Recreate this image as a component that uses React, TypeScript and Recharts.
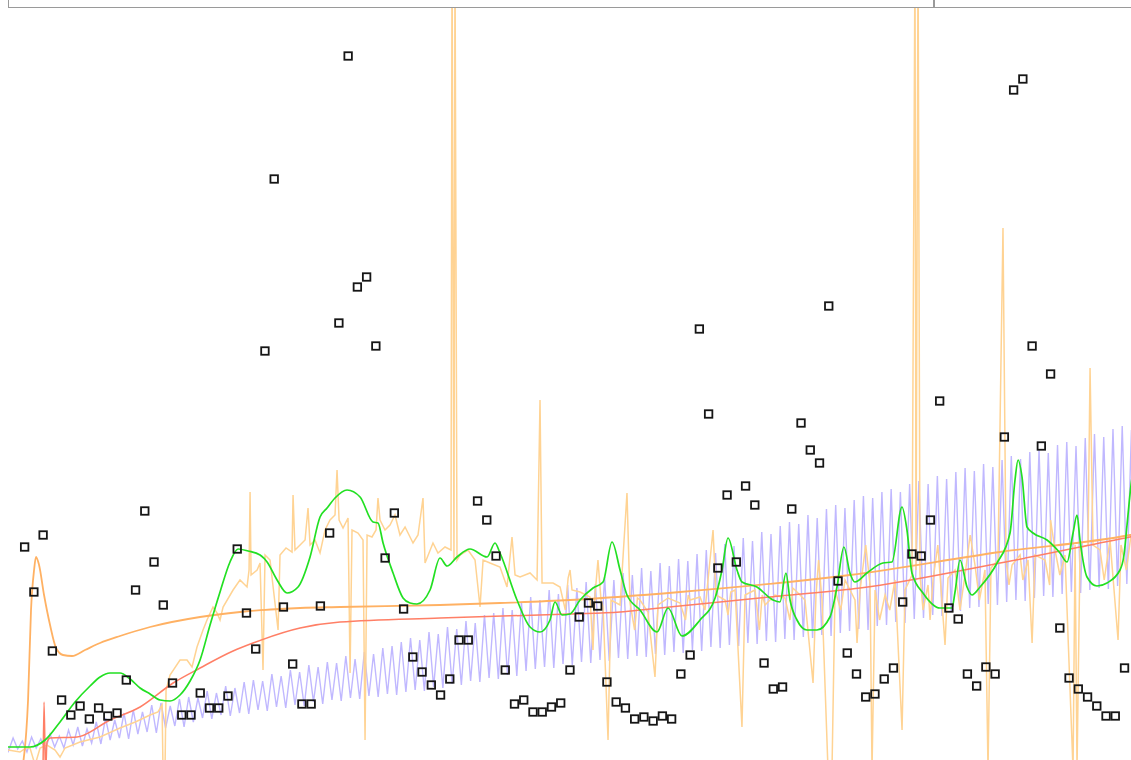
import React from 'react';
import { ComposedChart, Line, Scatter, XAxis, YAxis } from 'recharts';

// Square markers: one reading per step, step index = position in the list
const markerValues = [
  213, 168, 225, 109, 60, 45, 54, 41, 52, 44,
  47, 80, 170, 249, 198, 155, 77, 45, 45, 67,
  52, 52, 64, 211, 147, 111, 409, 581, 153, 96,
  56, 56, 154, 227, 437, 704, 473, 483, 414, 202,
  247, 151, 103, 88, 75, 65, 81, 120, 120, 259,
  240, 204, 90, 56, 60, 48, 48, 53, 57, 90,
  143, 157, 154, 78, 58, 52, 41, 43, 39, 44,
  41, 86, 105, 431, 346, 192, 265, 198, 274, 255,
  97, 71, 73, 251, 337, 310, 297, 454, 179, 107,
  86, 63, 66, 81, 92, 158, 206, 204, 240, 359,
  152, 141, 86, 74, 93, 86, 323, 670, 681, 414,
  314, 386, 132, 82, 71, 63, 54, 44, 44, 92,
];

// Oscillating series: peak and trough per step, starting at step -2
const OSC_START = -2;
const oscHigh = [
  20, 22, 19, 23, 21, 26, 24, 30, 33, 31, 38, 42, 40, 47, 50, 48, 55, 57, 54, 61,
  63, 62, 69, 67, 74, 72, 78, 80, 79, 86, 84, 90, 88, 95, 93, 98, 97, 104, 101, 108,
  106, 112, 114, 118, 122, 120, 128, 126, 133, 131, 139, 137, 145, 147, 152, 150, 158, 163, 160, 170,
  166, 175, 172, 178, 176, 183, 180, 187, 185, 192, 189, 197, 194, 201, 199, 206, 210, 207, 216, 214,
  222, 219, 228, 226, 234, 238, 236, 245, 242, 251, 255, 252, 260, 264, 262, 268, 271, 268, 276, 279,
  276, 284, 281, 288, 292, 289, 296, 293, 300, 304, 301, 308, 311, 307, 315, 318, 314, 322, 326, 323,
  331, 334, 330,
];
const oscLow = [
  9, 11, 8, 12, 10, 13, 12, 15, 14, 17, 16, 20, 22, 21, 26, 28, 27, 32, 34, 33,
  38, 42, 41, 45, 44, 47, 46, 50, 49, 53, 52, 55, 54, 58, 56, 60, 59, 62, 61, 64,
  63, 66, 65, 68, 70, 69, 73, 72, 76, 75, 79, 78, 82, 81, 85, 84, 89, 91, 93, 92,
  96, 95, 98, 97, 100, 99, 102, 101, 104, 103, 106, 105, 108, 107, 110, 109, 113, 112, 115, 114,
  117, 116, 119, 118, 121, 120, 123, 122, 125, 124, 127, 129, 131, 130, 134, 135, 138, 137, 141, 142,
  145, 144, 148, 149, 152, 153, 156, 155, 158, 160, 159, 162, 164, 163, 166, 168, 167, 170, 172, 171,
  174, 176, 175,
];

// Noisy series as [step, value]
const noisyReadings: [number, number][] = [
  [-1.8, 10], [-0.5, 8], [0.15, 12], [0.58, 12], [1.13, -5], [1.67, 12], [2.42, 15], [3.29, 10],
  [3.83, 3], [4.37, 12], [5.99, 18], [8.16, 23], [10.32, 32], [11.97, 38], [13.57, 45], [14.43, 48],
  [14.87, 55], [14.97, -10], [15.19, -10], [15.3, 70], [15.73, 85], [16.81, 100], [17.57, 100],
  [18.11, 93], [18.65, 113], [19.3, 130], [19.73, 140], [20.38, 153], [20.82, 147], [21.14, 140],
  [21.47, 153], [22.55, 170], [23.3, 180], [24.06, 173], [24.28, 190], [24.39, 268], [24.5, 185],
  [25.15, 190], [25.47, 197], [25.79, 90], [26.01, 205], [26.55, 200], [27.42, 130], [27.63, 205],
  [28.28, 212], [28.93, 208], [29.04, 265], [29.25, 210], [29.8, 215], [30.34, 220], [30.66, 252],
  [30.88, 215], [31.42, 220], [31.96, 207], [32.5, 230], [33.04, 240], [33.58, 245], [33.8, 290],
  [34.02, 240], [34.45, 232], [34.99, 242], [35.21, 87], [35.42, 230], [36.07, 227], [36.61, 220],
  [36.83, 20], [37.05, 225], [37.58, 223], [38.02, 230], [38.23, 262], [38.45, 240], [38.99, 230],
  [39.53, 235], [40.07, 245], [40.61, 225], [41.16, 233], [42.02, 217], [42.56, 225], [43.1, 262],
  [43.32, 197], [44.18, 217], [44.72, 207], [45.48, 213], [46.13, 210], [46.24, 810], [46.45, 200],
  [46.56, 810], [46.78, 200], [47.1, 205], [47.97, 210], [48.73, 200], [49.27, 153], [49.6, 200],
  [50.35, 197], [51.43, 193], [52.19, 173], [52.73, 223], [53.06, 185], [53.6, 183], [54.68, 187],
  [55.44, 180], [55.76, 360], [55.98, 177], [57.17, 177], [57.93, 173], [58.5, 150], [58.8, 182],
  [59.01, 190], [59.22, 170], [60.09, 168], [61.17, 163], [61.49, 110], [61.71, 165], [62.03, 200],
  [62.36, 160], [62.58, 153], [63.12, 20], [63.44, 160], [64.42, 155], [65.17, 267], [65.5, 157],
  [66.0, 130], [66.3, 162], [66.58, 160], [67.44, 148], [68.2, 83], [68.53, 155], [69.61, 162],
  [70.91, 157], [71.5, 140], [71.8, 165], [71.99, 160], [73.07, 163], [73.61, 150], [74.48, 230],
  [74.8, 165], [75.78, 160], [76.1, 145], [76.4, 168], [76.86, 170], [77.61, 33], [77.94, 165],
  [79.02, 170], [79.5, 130], [79.8, 165], [80.1, 155], [81.18, 165], [82.27, 162], [82.8, 140],
  [83.1, 172], [83.35, 170], [84.43, 160], [85.3, 77], [85.62, 165], [85.9, 200], [86.27, 160],
  [86.92, -10], [87.35, -10], [87.68, 170], [88.3, 150], [88.76, 180], [89.84, 160], [90.06, 117],
  [90.39, 170], [91.0, 215], [91.47, 175], [91.68, -10], [92.01, 170], [92.5, 140], [93.09, 165],
  [93.6, 150], [94.17, 180], [94.93, 30], [95.25, 170], [96.01, 185], [96.33, 810], [96.44, 190],
  [96.66, 810], [96.87, 185], [97.2, 150], [97.74, 175], [97.96, 140], [98.28, 180], [98.8, 215],
  [99.04, 185], [99.58, 115], [99.9, 182], [100.66, 190], [101.2, 150], [101.74, 185], [102.3, 225],
  [102.82, 195], [103.3, 160], [103.9, 190], [104.23, -10], [104.55, 192], [105.31, 200],
  [105.85, 532], [106.18, 200], [106.5, 175], [106.83, 195], [107.7, 205], [108.0, 180],
  [108.56, 200], [109.0, 117], [109.32, 205], [110.4, 200], [110.9, 175], [111.0, 240],
  [111.48, 210], [112.0, 185], [112.56, 205], [113.43, -10], [113.65, 215], [113.86, -10],
  [114.19, 212], [115.05, 215], [115.27, 392], [115.59, 215], [116.35, 210], [116.8, 180],
  [117.43, 220], [118.3, 120], [118.62, 215], [119.2, 190], [119.7, 225], [120.14, 230],
];

// Smooth fits as [step, value]
const orangeFit: [number, number][] = [
  [-0.28, -10], [0.37, 60], [0.69, 150], [1.02, 190], [1.23, 203], [1.56, 195], [2.1, 165],
  [2.75, 135], [3.4, 112], [4.15, 105], [5.13, 104], [6.53, 110], [8.16, 117], [10.32, 124],
  [13.57, 133], [18.98, 143], [23.3, 148], [29.8, 152], [34.12, 153], [44.94, 155], [51.43, 157],
  [59.01, 160], [70.91, 168], [89.3, 185], [105.53, 208], [119.59, 225], [120.14, 226],
];

const redFit: [number, number][] = [
  [1.99, -10], [2.1, 58], [2.26, -15], [2.42, 18], [2.75, 22], [5.67, 23], [9.24, 40],
  [12.49, 53], [16.06, 77], [18.98, 92], [22.55, 109], [24.71, 117], [29.8, 132], [34.12, 138],
  [44.94, 142], [59.01, 146], [64.42, 148], [67.66, 151], [73.07, 156], [81.72, 164], [90.39, 172],
  [105.53, 197], [119.59, 223], [120.14, 224],
];

const greenFit: [number, number][] = [
  [-1.8, 13], [0.58, 13], [2.21, 20], [3.83, 38], [5.45, 58], [7.08, 74], [8.16, 83], [9.24, 87],
  [10.32, 87], [11.41, 81], [12.49, 72], [13.57, 66], [14.65, 60], [15.73, 59], [16.81, 65],
  [17.9, 79], [18.98, 100], [20.06, 135], [21.14, 168], [22.22, 198], [23.09, 211], [24.17, 209],
  [25.47, 205], [26.23, 198], [27.31, 180], [28.39, 167], [29.58, 173], [30.88, 203], [31.96, 243],
  [32.72, 252], [33.58, 262], [34.88, 270], [36.29, 263], [37.69, 238], [38.23, 237], [38.78, 217],
  [39.86, 187], [40.94, 162], [41.7, 157], [42.45, 156], [43.86, 170], [44.94, 202], [45.7, 194],
  [46.78, 203], [48.19, 211], [50.03, 203], [50.89, 217], [51.43, 207], [53.27, 160], [54.68, 133],
  [55.76, 128], [56.84, 140], [57.38, 158], [58.14, 145], [59.0, 146], [60.09, 160], [61.5, 172],
  [62.58, 178], [63.55, 218], [64.42, 190], [65.17, 165], [66.58, 150], [68.42, 128], [69.61, 152],
  [71.12, 124], [73.07, 140], [74.7, 162], [75.45, 190], [76.1, 222], [77.07, 190], [77.61, 178],
  [79.23, 173], [80.97, 160], [81.72, 158], [82.37, 187], [82.81, 160], [83.56, 140], [84.64, 130],
  [85.72, 130], [87.13, 143], [87.89, 173], [88.64, 213], [89.29, 187], [89.83, 178], [91.13, 187],
  [92.86, 197], [93.84, 198], [94.92, 253], [95.46, 230], [96.0, 187], [97.19, 167], [99.03, 152],
  [100.33, 152], [100.66, 168], [101.2, 200], [101.96, 173], [102.5, 165], [103.37, 173],
  [105.21, 197], [106.61, 227], [107.15, 280], [107.48, 300], [107.91, 283], [108.45, 233],
  [109.1, 227], [110.61, 220], [112.02, 207], [112.78, 198], [113.43, 227], [113.86, 245],
  [114.18, 220], [114.94, 183], [116.02, 174], [117.1, 177], [118.51, 190], [118.94, 205],
  [119.27, 235], [119.7, 275], [120.14, 300],
];

const toPoints = (pairs: [number, number][]) => pairs.map(([t, v]) => ({ t, v }));

const markerData = markerValues.map((v, i) => ({ t: i, v }));
const oscData = oscHigh.flatMap((hi, k) => [
  { t: OSC_START + k - 0.25, v: hi },
  { t: OSC_START + k + 0.25, v: oscLow[k] },
]);

const SquareMarker = (props: any) => {
  const { cx, cy } = props;
  if (cx == null || cy == null) return null;
  return (
    <rect x={cx - 3.75} y={cy - 3.75} width={7.5} height={7.5} fill="none" stroke="#161616" strokeWidth={1.8} />
  );
};

export default function App() {
  return (
    <div style={{ position: 'fixed', left: 8, top: 8, width: 1123, height: 752 }}>
      {/* header strip, mostly scrolled out of view */}
      <div
        style={{
          position: 'absolute',
          left: 0,
          top: -40,
          width: 1123,
          height: 40,
          boxSizing: 'border-box',
          border: '1px solid #9a9a9a',
          borderRight: 'none',
        }}
      />
      <div style={{ position: 'absolute', left: 925, top: -40, width: 2, height: 40, background: '#9a9a9a' }} />
      <ComposedChart width={1123} height={752} margin={{ top: 0, right: 0, bottom: 0, left: 0 }}>
        <XAxis type="number" dataKey="t" domain={[-1.8, 119.7]} allowDataOverflow hide />
        <YAxis type="number" dataKey="v" domain={[0, 752]} allowDataOverflow hide />
        <Line data={oscData} dataKey="v" type="linear" stroke="#c0b8ff" strokeWidth={1.4} dot={false} isAnimationActive={false} />
        <Line data={toPoints(noisyReadings)} dataKey="v" type="linear" stroke="#ffd393" strokeWidth={1.5} dot={false} isAnimationActive={false} />
        <Line data={toPoints(orangeFit)} dataKey="v" type="monotone" stroke="#ffb163" strokeWidth={1.8} dot={false} isAnimationActive={false} />
        <Line data={toPoints(redFit)} dataKey="v" type="monotone" stroke="#ff7f66" strokeWidth={1.5} dot={false} isAnimationActive={false} />
        <Line data={toPoints(greenFit)} dataKey="v" type="monotone" stroke="#22e022" strokeWidth={1.7} dot={false} isAnimationActive={false} />
        <Scatter data={markerData} dataKey="v" shape={SquareMarker} isAnimationActive={false} />
      </ComposedChart>
    </div>
  );
}
